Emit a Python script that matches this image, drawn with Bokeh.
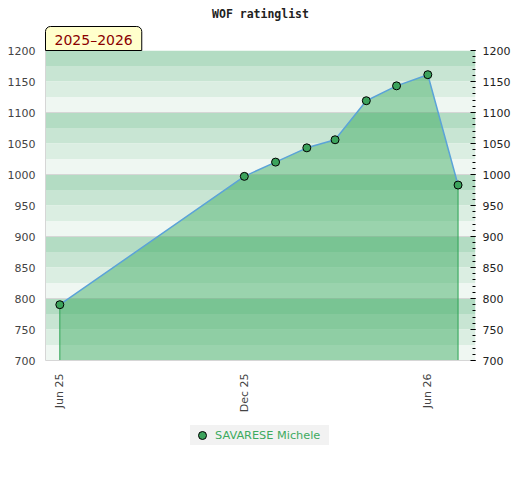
import math
import pandas as pd
from bokeh.plotting import figure
from bokeh.layouts import column
from bokeh.models import (ColumnDataSource, Range1d, LinearAxis, SingleIntervalTicker,
                          MonthsTicker, DatetimeTickFormatter, Legend, LegendItem, Title)
from bokeh.embed import file_html
from bokeh.resources import INLINE

# ---- data ----
dates = ["2025-06-01", "2025-12-01", "2026-01-01", "2026-02-01", "2026-03-01",
         "2026-04-01", "2026-05-01", "2026-06-01", "2026-07-01"]
ratings = [790, 997, 1020, 1043, 1056, 1119, 1143, 1161, 983]
player = "SAVARESE Michele"
season = "2025\u20132026"
chart_title = "WOF ratinglist"
y_min, y_max = 700, 1200

dt = pd.to_datetime(dates)
src = ColumnDataSource(dict(x=dt, y=ratings))

x_start = dt[0] - pd.Timedelta(days=14.2)
x_end = dt[-1] + pd.Timedelta(days=17.3)

p = figure(frame_width=430, frame_height=310, output_backend="svg", toolbar_location=None,
           x_axis_type="datetime", x_range=Range1d(x_start, x_end),
           y_range=Range1d(y_min, y_max),
           min_border_left=45, min_border_right=10, min_border_top=50, min_border_bottom=58)
p.outline_line_color = None
p.background_fill_color = "white"
p.border_fill_color = "white"

# background bands
band_colors = ["#b3dcc3", "#c8e5d3", "#dbeee2", "#eff7f2"]
tops, bottoms, cols = [], [], []
t = y_max
while t > y_min:
    k = int((y_max - t) // 25) % 4
    tops.append(t); bottoms.append(t - 25); cols.append(band_colors[k])
    t -= 25
bands = p.quad(left=x_start, right=x_end, top=tops, bottom=bottoms,
               fill_color=cols, line_color=None)
bands.level = "image"

# grid
p.xgrid.visible = False
p.ygrid.ticker = SingleIntervalTicker(interval=100)
p.ygrid.grid_line_color = "#d6d6d6"
p.ygrid.grid_line_width = 1

# area
p.varea(x="x", y1=y_min, y2="y", source=src, fill_color="#34a759", fill_alpha=0.45)
p.segment(x0=[dt[0], dt[-1]], x1=[dt[0], dt[-1]], y0=[y_min, y_min],
          y1=[ratings[0], ratings[-1]], line_color="#2ea355", line_width=1)
p.line(x="x", y="y", source=src, line_color="#5ba3d8", line_width=1.5)
marker_style = dict(size=8, fill_color="#3ca35c", line_color="black", line_width=1)
p.scatter(x="x", y="y", source=src, **marker_style)

# axes
xa = p.xaxis[0]
xa.ticker = MonthsTicker(months=[5, 11])
fmt = "%b %y"
xa.formatter = DatetimeTickFormatter(months=fmt, days=fmt, years=fmt, hours=fmt,
                                     minutes=fmt, seconds=fmt, milliseconds=fmt,
                                     microseconds=fmt, minsec=fmt, hourmin=fmt)
xa.major_label_orientation = math.pi / 2
xa.major_tick_line_color = None
xa.minor_tick_line_color = None
xa.major_tick_out = 0
xa.minor_tick_out = 0
xa.major_tick_in = 0
xa.axis_line_color = "#d6d6d6"
xa.major_label_text_color = "#444444"
xa.major_label_text_font = "DejaVu Sans"
xa.major_label_text_font_size = "11px"
xa.major_label_standoff = 13

ya = p.yaxis[0]
ya.ticker = SingleIntervalTicker(interval=50)
ya.major_tick_line_color = None
ya.minor_tick_line_color = None
ya.major_tick_out = 0
ya.minor_tick_out = 0
ya.major_tick_in = 0
ya.axis_line_color = "#d6d6d6"
ya.major_label_text_color = "#444444"
ya.major_label_text_font = "DejaVu Sans"
ya.major_label_text_font_size = "11px"
ya.major_label_standoff = 10

ra = LinearAxis(ticker=SingleIntervalTicker(interval=50, num_minor_ticks=5))
ra.axis_line_color = None
ra.major_tick_in = 5
ra.major_tick_out = 0
ra.minor_tick_in = 3
ra.minor_tick_out = 0
ra.major_tick_line_color = "black"
ra.minor_tick_line_color = "black"
ra.major_label_text_color = "#222222"
ra.major_label_text_font = "DejaVu Sans"
ra.major_label_text_font_size = "11px"
ra.major_label_standoff = 7
p.add_layout(ra, "right")

# season tab (nearest to the frame) and chart title
p.add_layout(Title(text=season, align="left", standoff=0, offset=0,
                   text_font="DejaVu Sans", text_font_size="14px",
                   text_font_style="normal", text_color="#8b0000",
                   background_fill_color="#ffffcc", background_fill_alpha=1,
                   border_line_color="black", border_line_width=1,
                   padding=dict(left=9, right=9, top=5, bottom=3),
                   border_radius=dict(top_left=5, top_right=5, bottom_right=0, bottom_left=0)),
             "above")
p.add_layout(Title(text=chart_title, align="center", standoff=7,
                   text_font="DejaVu Sans Mono", text_font_style="bold",
                   text_font_size="11.5px", text_color="#222222"), "above")

# legend in its own strip below the chart (same data, outside this strip's view)
lg = figure(width=504, height=48, output_backend="svg", toolbar_location=None,
            x_range=Range1d(0, 1), y_range=Range1d(0, 1),
            min_border_left=0, min_border_right=0, min_border_top=0, min_border_bottom=0)
lg.axis.visible = False
lg.grid.visible = False
lg.outline_line_color = None
lg.background_fill_color = "white"
lg.border_fill_color = "white"
leg_r = lg.scatter(x="x", y="y", source=src, **marker_style)
legend = Legend(items=[LegendItem(label=player, renderers=[leg_r])],
                location=(145, 21), orientation="horizontal",
                background_fill_color="#f2f2f2", background_fill_alpha=1,
                border_line_color=None, padding=0, spacing=0, margin=0,
                glyph_width=24, glyph_height=20, label_height=20, label_width=114,
                label_standoff=1, label_text_color="#3daa5f",
                label_text_font="DejaVu Sans", label_text_font_size="11.3px")
lg.add_layout(legend)

layout = column(p, lg, spacing=0)
open("out.html", "w").write(file_html(layout, INLINE))
